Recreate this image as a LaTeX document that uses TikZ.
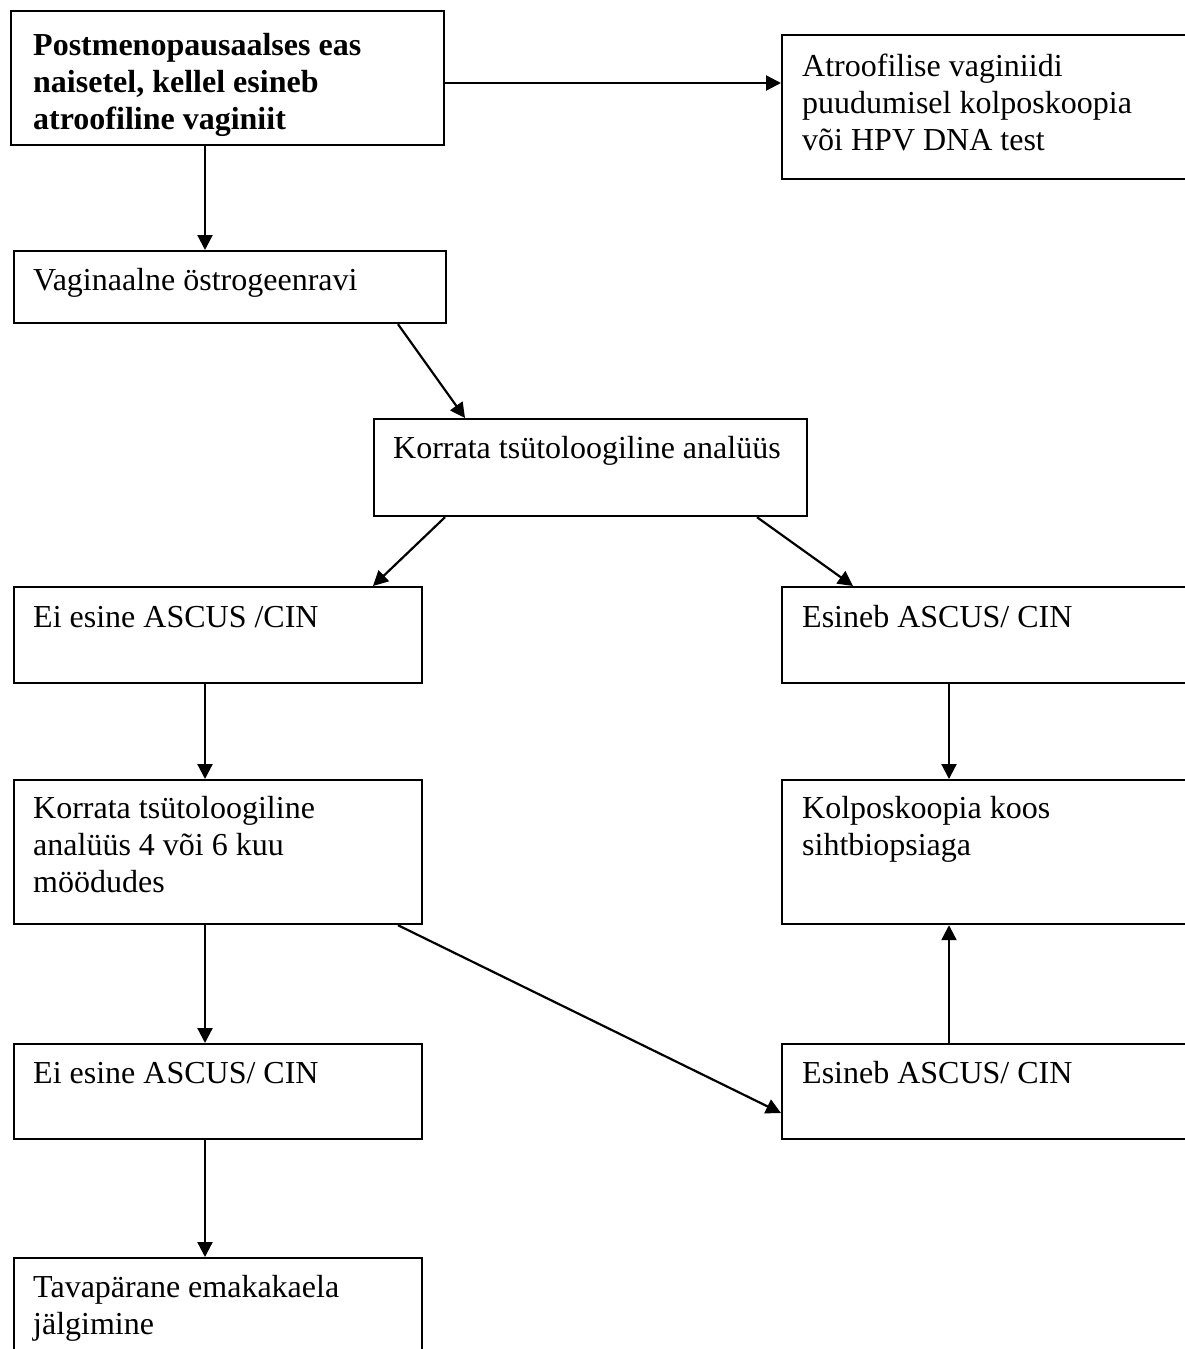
\documentclass[tikz,border=0pt]{standalone}
\usepackage{fontspec}
\setmainfont{Liberation Serif}
\usetikzlibrary{arrows.meta}
\newcommand{\mylines}[1]{\begin{tabular}[t]{@{}l@{}}#1\end{tabular}}
\begin{document}
\begin{tikzpicture}[x=1pt,y=-1pt,
  box/.style={draw,line width=2.2pt,anchor=north west,inner sep=0pt,minimum width=#1},
  txt/.style={anchor=base west,inner sep=0pt,font=\fontsize{32}{37}\selectfont},
  arr/.style={line width=2.2pt,-{Triangle[length=15pt,width=15pt]}}]
\path[use as bounding box,clip] (0,0) rectangle (1185,1349);
\fill[white] (0,0) rectangle (1185,1349);
% boxes
\node[box=433pt,minimum height=134pt] (b1) at (10,10) {};
\node[box=430pt,minimum height=144pt] (b2) at (781,34) {};
\node[box=432pt,minimum height=72pt] (b3) at (13,250) {};
\node[box=433pt,minimum height=97pt] (b4) at (373,418) {};
\node[box=408pt,minimum height=96pt] (b5) at (13,586) {};
\node[box=430pt,minimum height=96pt] (b6) at (781,586) {};
\node[box=408pt,minimum height=144pt] (b7) at (13,779) {};
\node[box=430pt,minimum height=144pt] (b8) at (781,779) {};
\node[box=408pt,minimum height=95pt] (b9) at (13,1043) {};
\node[box=430pt,minimum height=95pt] (b10) at (781,1043) {};
\node[box=408pt,minimum height=150pt] (b11) at (13,1257) {};
% texts
\node[txt,font=\fontsize{32}{37}\selectfont\bfseries] (t1) at (33,55) {\mylines{Postmenopausaalses eas\\naisetel, kellel esineb\\atroofiline vaginiit}};
\node[txt] (t2) at (802,76) {\mylines{Atroofilise vaginiidi\\puudumisel kolposkoopia\\või HPV DNA test}};
\node[txt] (t3) at (33,290) {Vaginaalne östrogeenravi};
\node[txt] (t4) at (393,458) {Korrata tsütoloogiline analüüs};
\node[txt] (t5) at (33,627) {Ei esine ASCUS /CIN};
\node[txt] (t6) at (802,627) {Esineb ASCUS/ CIN};
\node[txt] (t7) at (33,818) {\mylines{Korrata tsütoloogiline\\analüüs 4 või 6 kuu\\möödudes}};
\node[txt] (t8) at (802,818) {\mylines{Kolposkoopia koos\\sihtbiopsiaga}};
\node[txt] (t9) at (33,1083) {Ei esine ASCUS/ CIN};
\node[txt] (t10) at (802,1083) {Esineb ASCUS/ CIN};
\node[txt] (t11) at (33,1297) {\mylines{Tavapärane emakakaela\\jälgimine}};
% connectors
\draw[arr] ([yshift=-73pt]b1.north east) -- ([yshift=-73pt]b1.north east -| b2.west);
\draw[arr] ([xshift=195pt]b1.south west) -- ([xshift=192pt]b3.north west);
\draw[arr] ([xshift=385pt]b3.south west) -- ([xshift=92pt]b4.north west);
\draw[arr] ([xshift=72pt]b4.south west) -- ([xshift=360pt]b5.north west);
\draw[arr] ([xshift=384pt]b4.south west) -- ([xshift=72pt]b6.north west);
\draw[arr] ([xshift=192pt]b5.south west) -- ([xshift=192pt]b7.north west);
\draw[arr] ([xshift=168pt]b6.south west) -- ([xshift=168pt]b8.north west);
\draw[arr] ([xshift=192pt]b7.south west) -- ([xshift=192pt]b9.north west);
\draw[arr] ([xshift=385pt]b7.south west) -- ([yshift=-70pt]b10.north west);
\draw[arr] ([xshift=168pt]b10.north west) -- ([xshift=168pt]b8.south west);
\draw[arr] ([xshift=192pt]b9.south west) -- ([xshift=192pt]b11.north west);
\end{tikzpicture}
\end{document}
